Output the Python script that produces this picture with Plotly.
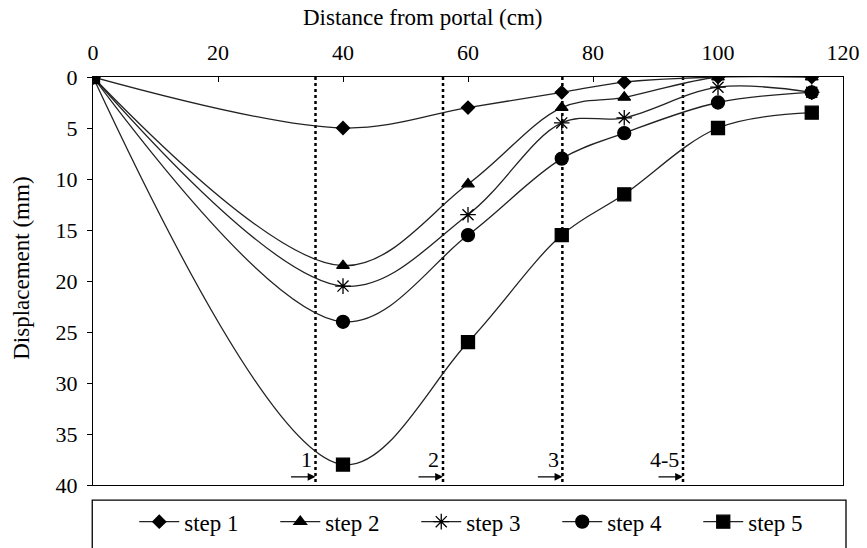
import plotly.graph_objects as go

x_pos = [0, 40, 60, 75, 85, 100, 115]
step1 = [0, 5, 3, 1.5, 0.5, 0, 0]
step2 = [0, 18.5, 10.5, 3, 2, 0, 0]
step3 = [0, 20.5, 13.5, 4.5, 4, 1, 1.5]
step4 = [0, 24, 15.5, 8, 5.5, 2.5, 1.5]
step5 = [0, 38, 26, 15.5, 11.5, 5, 3.5]
series_names = ["step 1", "step 2", "step 3", "step 4", "step 5"]
face_x = [35.6, 56, 75.1, 94.4]
face_labels = ["1", "2", "3", "4-5"]

FONT = "Liberation Serif, Times New Roman, DejaVu Serif, serif"
symbols = ["diamond", "triangle-up", "asterisk-open", "circle", "square"]
sizes = [10, 11, 13, 13, 13]

fig = go.Figure()
for name, ys, sym, sz in zip(series_names, [step1, step2, step3, step4, step5], symbols, sizes):
    fig.add_trace(go.Scatter(
        x=x_pos, y=ys, name=name, mode="lines+markers",
        line=dict(color="#222", width=1.3, shape="spline", smoothing=1.0),
        marker=dict(symbol=sym, size=sz, color="black",
                    line=dict(color="black", width=1.3)),
    ))

for xv in face_x:
    fig.add_shape(type="line", x0=xv, x1=xv, y0=0, y1=40, xref="x", yref="y",
                  line=dict(color="black", width=2.5, dash="dot"), layer="below")

for xv, lab in zip(face_x, face_labels):
    fig.add_annotation(x=xv, y=39.2, ax=-26, ay=0, xref="x", yref="y",
                       text="", showarrow=True, arrowhead=2, arrowsize=1.2,
                       arrowwidth=1.3, arrowcolor="black", standoff=0)
    fig.add_annotation(x=xv - 0.3, y=38.9, xref="x", yref="y", text=lab,
                       showarrow=False, xanchor="right", yanchor="bottom",
                       font=dict(family=FONT, size=22, color="black"))

# axis titles as annotations (positioned as in the reference)
fig.add_annotation(text="Distance from portal (cm)", xref="paper", yref="paper",
                   x=0.44, y=1.0 + 60 / 408, xanchor="center", yanchor="middle",
                   showarrow=False, font=dict(family=FONT, size=23, color="black"))
fig.add_annotation(text="Displacement (mm)", xref="paper", yref="paper",
                   x=-71 / 750, y=0.53, xanchor="center", yanchor="middle",
                   textangle=-90, showarrow=False,
                   font=dict(family=FONT, size=23, color="black"))

# legend frame
fig.add_shape(type="rect", xref="paper", yref="paper",
              x0=-0.001, x1=1.004, y0=-0.2, y1=-0.037,
              line=dict(color="black", width=1.3), fillcolor="rgba(0,0,0,0)")

fig.update_layout(
    width=867, height=548,
    margin=dict(l=93, r=24, t=77, b=63, autoexpand=False),
    paper_bgcolor="white", plot_bgcolor="white",
    font=dict(family=FONT, size=22, color="black"),
    showlegend=True,
    legend=dict(orientation="h", x=0.055, xanchor="left", y=-0.09, yanchor="middle",
                font=dict(family=FONT, size=23), bgcolor="rgba(0,0,0,0)",
                entrywidth=86, itemwidth=40, traceorder="normal"),
    xaxis=dict(side="top", range=[0, 120], dtick=20, tick0=0, automargin=False,
               showgrid=False, zeroline=False, showline=True, mirror=True,
               linecolor="black", linewidth=1.3, ticks="inside", ticklen=5,
               ticklabelstandoff=7,
               tickcolor="black", tickfont=dict(family=FONT, size=22)),
    yaxis=dict(range=[40, 0], dtick=5, tick0=0, automargin=False,
               showgrid=False, zeroline=False, showline=True, mirror=True,
               linecolor="black", linewidth=1.3, ticks="outside", ticklen=5,
               ticklabelstandoff=5,
               tickcolor="black", tickfont=dict(family=FONT, size=22)),
)

fig.write_html("out.html", config={"displayModeBar": False},
               post_script="document.body.style.margin='0';")
